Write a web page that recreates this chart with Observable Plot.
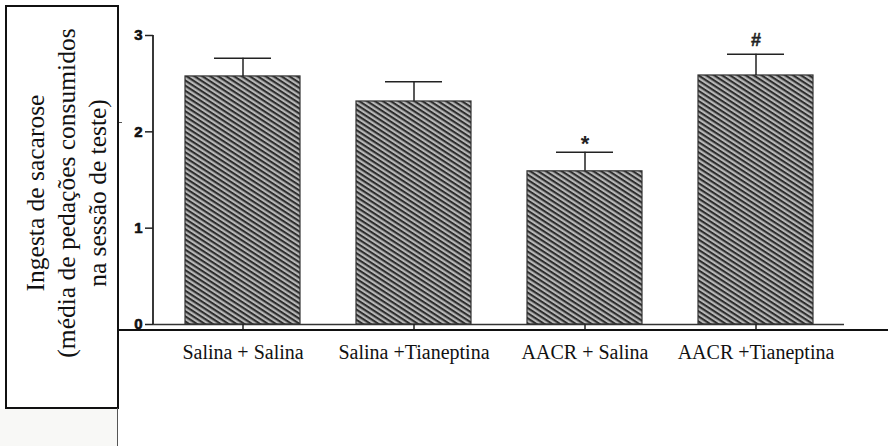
<!DOCTYPE html>
<html><head><meta charset="utf-8">
<script src="https://cdn.jsdelivr.net/npm/d3@7"></script>
<script src="https://cdn.jsdelivr.net/npm/@observablehq/plot@0.6"></script>
<style>
body{margin:0;background:#fff;}
#wrap{position:relative;width:888px;height:446px;overflow:hidden;background:#fff;}
#chart{position:absolute;left:0;top:0;}
#box{position:absolute;left:5px;top:5px;width:114px;height:404px;border:2px solid #111;box-sizing:border-box;background:#fff;}
#title{position:absolute;left:66px;top:193px;width:400px;height:110px;margin-left:-200px;margin-top:-55px;transform:rotate(-90deg);display:flex;align-items:center;justify-content:center;text-align:center;font-family:"Liberation Serif","Times New Roman",serif;font-size:25.5px;line-height:31px;color:#111;white-space:nowrap;}
#hline{position:absolute;left:118px;top:329px;width:770px;height:2px;background:#111;}
#vline{position:absolute;left:117px;top:408px;width:1px;height:38px;background:#555;}
#shade{position:absolute;left:0;top:409px;width:117px;height:37px;background:#f8f8f6;}
#nick{position:absolute;left:119px;top:122px;width:3px;height:1px;background:#555;}
</style></head>
<body>
<div id="wrap">
  <div id="chart"></div>
  <div id="shade"></div>
  <div id="box"></div>
  <div id="title"><div>Ingesta de sacarose<br>(média de pedações consumidos<br>na sessão de teste)</div></div>
  <div id="hline"></div>
  <div id="vline"></div>
  <div id="nick"></div>
</div>
<script>
const groups = ["Salina + Salina", "Salina +Tianeptina", "AACR + Salina", "AACR +Tianeptina"];
const means = [2.575, 2.315, 1.59, 2.585];
const sems = [0.19, 0.205, 0.197, 0.22];
const signif = ["", "", "*", "#"];
const yTicks = [0, 1, 2, 3];

const data = groups.map((g, i) => ({group: g, mean: means[i], top: means[i] + sems[i], mark: signif[i]}));
const sans = "Liberation Sans, Arial, sans-serif";
const serif = "Liberation Serif, Times New Roman, serif";

const plot = Plot.plot({
  width: 888,
  height: 446,
  marginLeft: 153,
  marginRight: 44,
  marginTop: 35,
  marginBottom: 122,
  style: {background: "transparent", color: "#222"},
  x: {domain: groups, paddingInner: 0.33, paddingOuter: 0.174, label: null},
  y: {domain: [0, 3], label: null},
  marks: [
    Plot.barY(data, {x: "group", y: "mean", fill: "url(#hatch)", stroke: "#333", strokeWidth: 1.2}),
    Plot.ruleX(data, {x: "group", y1: "mean", y2: "top", stroke: "#222", strokeWidth: 1.5}),
    Plot.tickY(data, {x: "group", y: "top", stroke: "#222", strokeWidth: 1.5, insetLeft: 29, insetRight: 29}),
    Plot.text(data, {filter: d => d.mark === "*", x: "group", y: "top", text: "mark", dy: -8, fontSize: 22, fontWeight: "bold", fontFamily: sans, fill: "#222"}),
    Plot.text(data, {filter: d => d.mark === "#", x: "group", y: "top", text: "mark", dy: -14, fontSize: 18, fontWeight: "bold", fontFamily: sans, fill: "#222", stroke: "#222", strokeWidth: 0.4}),
    Plot.ruleY([0], {stroke: "#333", strokeWidth: 1.5}),
    Plot.axisY({ticks: yTicks, tickSize: 8, tickFormat: () => "", label: null, stroke: "#222", strokeWidth: 1.5}),
    Plot.text(yTicks, {y: d => d, text: d => String(d), frameAnchor: "left", textAnchor: "end", dx: -11, fontSize: 15, fontWeight: "bold", fontFamily: sans, fill: "#111", stroke: "#111", strokeWidth: 0.6}),
    Plot.axisX({tickSize: 5, tickPadding: 15, label: null, stroke: "#222", strokeWidth: 1.5, fontSize: 20, fontFamily: serif, fill: "#111"})
  ]
});

const svg = d3.select(plot);
const defs = svg.insert("defs", ":first-child");
const pat = defs.append("pattern").attr("id", "hatch").attr("patternUnits", "userSpaceOnUse")
  .attr("width", 4.3).attr("height", 4.3).attr("patternTransform", "rotate(33)");
pat.append("rect").attr("width", 4.3).attr("height", 4.3).attr("fill", "#b8b8b8");
pat.append("rect").attr("width", 4.3).attr("height", 2.1).attr("fill", "#2e2e2e");

// y axis line drawn from the y scale
const ys = plot.scale("y");
svg.append("line").attr("x1", 153).attr("x2", 153)
  .attr("y1", ys.apply(3)).attr("y2", ys.apply(0))
  .attr("stroke", "#222").attr("stroke-width", 1.8);

document.getElementById("chart").appendChild(plot);
</script>
</body></html>
